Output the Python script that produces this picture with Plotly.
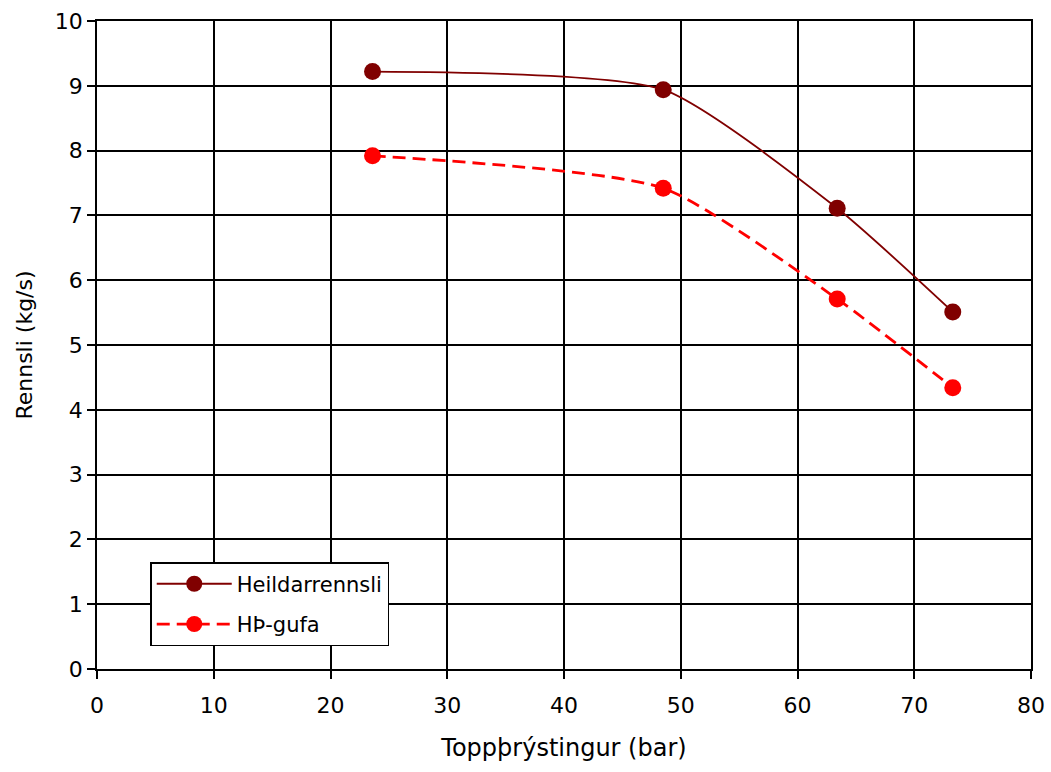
import plotly.graph_objects as go

pressure = [23.6, 48.5, 63.4, 73.3]
heildar = [9.22, 8.94, 7.11, 5.51]
hp_gufa = [7.92, 7.42, 5.71, 4.34]
x_ticks = [0, 10, 20, 30, 40, 50, 60, 70, 80]
y_ticks = [0, 1, 2, 3, 4, 5, 6, 7, 8, 9, 10]

FONT = "DejaVu Sans, Arial, sans-serif"

fig = go.Figure()
fig.add_trace(go.Scatter(x=pressure, y=heildar, name="Heildarrennsli", mode="lines+markers",
                         legendgroup="a",
                         line=dict(color="#800000", width=1.8, shape="spline", smoothing=0.6),
                         marker=dict(color="#800000", size=17)))
fig.add_trace(go.Scatter(x=pressure, y=hp_gufa, name="HÞ-gufa", mode="lines+markers",
                         legendgroup="b",
                         line=dict(color="#FF0000", width=2.8, dash="13px,7px", shape="spline", smoothing=0.6),
                         marker=dict(color="#FF0000", size=17)))

axis_common = dict(showgrid=True, gridcolor="black", gridwidth=1.5, showline=True, linecolor="black",
                   linewidth=1.5, mirror=True, ticks="outside", ticklen=8, tickcolor="black",
                   tickwidth=1.5, tickfont=dict(size=22, color="black", family=FONT), zeroline=False,
                   automargin=False)
fig.update_xaxes(range=[0, 80], tickvals=x_ticks, ticklabelstandoff=8,
                 title=dict(text="Toppþrýstingur (bar)", font=dict(size=24, color="black", family=FONT),
                            standoff=22),
                 **axis_common)
fig.update_yaxes(range=[0, 10], tickvals=y_ticks,
                 title=dict(text="Rennsli (kg/s)", font=dict(size=22, color="black", family=FONT),
                            standoff=16),
                 **axis_common)
fig.update_layout(width=1051, height=772, margin=dict(l=97, r=20, t=21, b=103),
                  paper_bgcolor="white", plot_bgcolor="white",
                  font=dict(family=FONT, color="black"),
                  legend=dict(x=0.057, y=0.165, xanchor="left", yanchor="top", bgcolor="white",
                              bordercolor="black", borderwidth=1.5, font=dict(size=21, family=FONT),
                              itemwidth=75, tracegroupgap=10))
fig.write_html("out.html")
